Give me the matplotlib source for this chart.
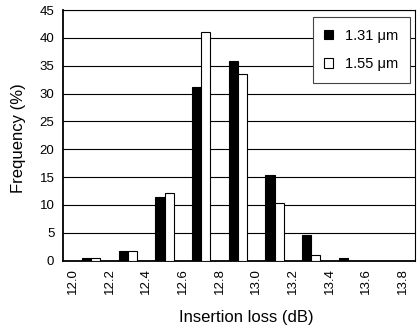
import matplotlib.pyplot as plt
import numpy as np

# bin centres (dB) and frequencies (%)
bin_centres = [12.1, 12.3, 12.5, 12.7, 12.9, 13.1, 13.3, 13.5]
freq_131 = [0.4, 1.8, 11.5, 31.1, 35.8, 15.4, 4.7, 0.4]
freq_155 = [0.4, 1.8, 12.2, 41.1, 33.6, 10.3, 1.1, 0.0]
tick_vals = [12.0, 12.2, 12.4, 12.6, 12.8, 13.0, 13.2, 13.4, 13.6, 13.8]

plt.rcParams['font.family'] = ['Liberation Sans', 'DejaVu Sans']

fig = plt.figure(figsize=(4.19, 3.29), dpi=100)
ax = fig.add_axes([0.1496, 0.2076, 0.8408, 0.762])

x = np.array(bin_centres)
w = 0.05
ax.bar(x - w/2, freq_131, width=w, color='black', edgecolor='black', linewidth=0.8,
       label='1.31 \u03bcm', zorder=3)
ax.bar(x + w/2, freq_155, width=w, color='white', edgecolor='black', linewidth=0.8,
       label='1.55 \u03bcm', zorder=3)

ax.set_xlim(11.945, 13.865)
ax.set_ylim(0, 45)
ax.set_yticks(range(0, 46, 5))
ax.set_xticks(tick_vals)
ax.set_xticklabels([f'{t:.1f}' for t in tick_vals], rotation=90)
ax.tick_params(axis='both', length=0, labelsize=9.5)
ax.tick_params(axis='x', pad=5)
ax.tick_params(axis='y', pad=6)
ax.yaxis.grid(True, color='black', linewidth=0.8, zorder=0)
ax.set_axisbelow(True)

for side in ['left', 'bottom']:
    ax.spines[side].set_linewidth(1.3)
for side in ['top', 'right']:
    ax.spines[side].set_linewidth(0.8)

ax.set_xlabel('Insertion loss (dB)', fontsize=12)
ax.xaxis.set_label_coords(0.52, -0.195)
ax.set_ylabel('Frequency (%)', fontsize=12)
ax.yaxis.set_label_coords(-0.105, 0.49)

leg = ax.legend(loc='upper right', bbox_to_anchor=(0.985, 0.972), fontsize=10.5,
                frameon=True, fancybox=False, framealpha=1, edgecolor='#444444',
                handlelength=0.6, handleheight=0.65, handletextpad=0.8,
                labelspacing=1.0, borderpad=0.8, borderaxespad=0)
leg.get_frame().set_linewidth(0.8)
leg.set_zorder(5)

fig.savefig('out.png', dpi=100)
